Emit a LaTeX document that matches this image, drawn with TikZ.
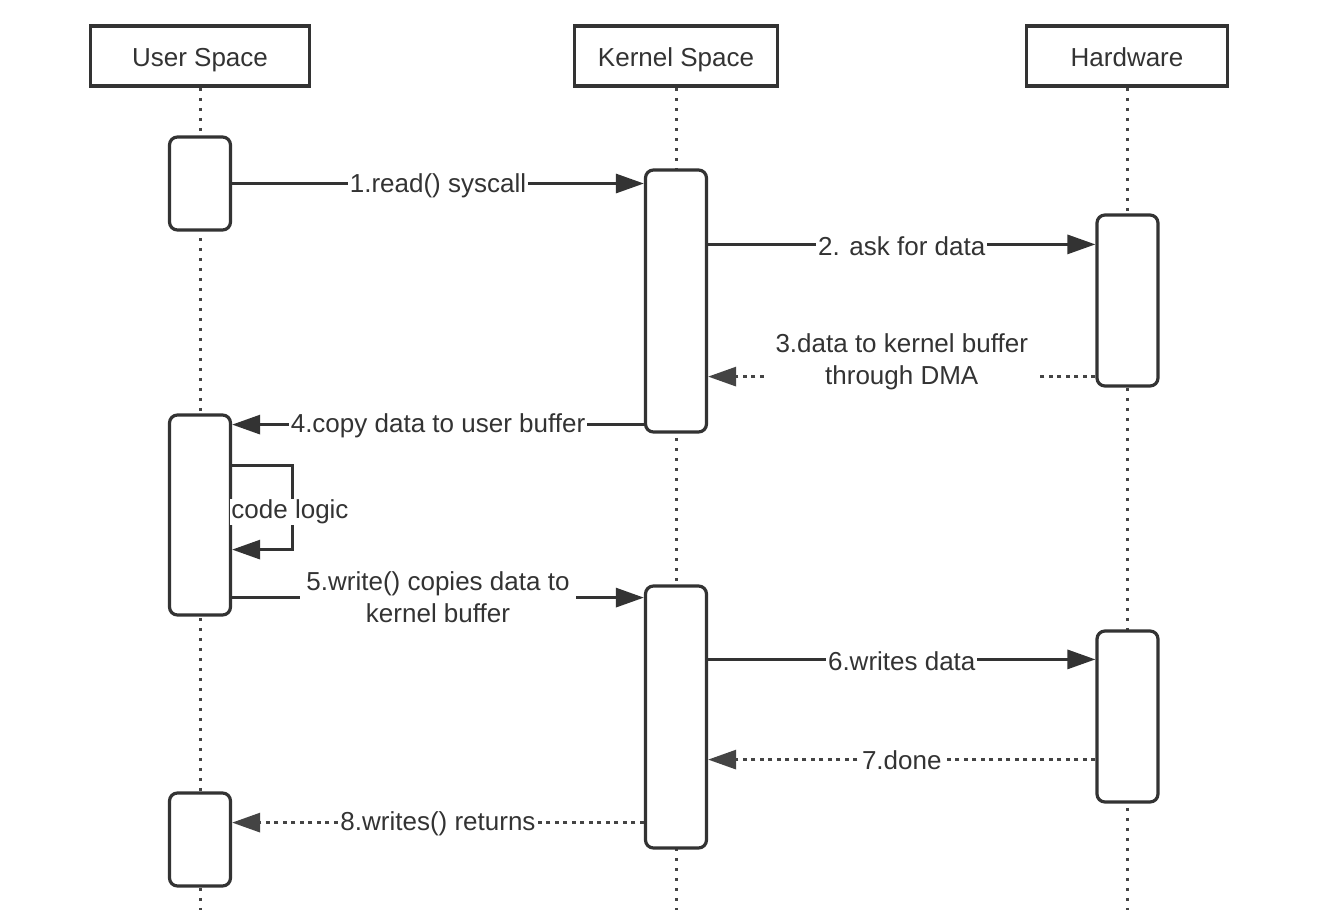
\documentclass[tikz,border=0pt]{standalone}
\usepackage{fontspec}
\setmainfont{Liberation Sans}
\usetikzlibrary{arrows.meta,calc}
\definecolor{ink}{HTML}{333333}
\definecolor{dotc}{HTML}{444444}
\begin{document}
\begin{tikzpicture}[x=1pt,y=-1pt,
  txt/.style={text=ink,font=\fontsize{26}{32}\selectfont},
  head/.style={txt,draw=ink,line width=3.5pt,minimum height=60pt,inner sep=0pt,text height=22pt,text depth=2pt},
  act/.style={draw=ink,line width=3.2pt,rounded corners=8pt,fill=white,minimum width=61pt,inner sep=0pt},
  life/.style={draw=dotc,line width=3pt,dash pattern=on 3pt off 7pt},
  msg/.style={draw=ink,line width=3pt,-{Triangle[length=28pt,width=19pt]}},
  ret/.style={msg,draw=dotc,dash pattern=on 4pt off 4.5pt},
  lbl/.style={txt,fill=white,inner xsep=2pt,inner ysep=1pt,align=center}]
\useasboundingbox[fill=white] (0,0) rectangle (1338,910);

% heads
\node[head,minimum width=219pt] (uh) at (200,56) {User Space};
\node[head,minimum width=203pt] (kh) at (676,56) {Kernel Space};
\node[head,minimum width=201pt] (hh) at (1127,56) {Hardware};

% lifelines
\coordinate (ue) at (200,910);
\coordinate (ke) at (676,910);
\coordinate (he) at (1127,910);
\draw[life] (uh.south) -- (ue);
\draw[life] (kh.south) -- (ke);
\draw[life] (hh.south) -- (he);

% activations
\node[act,minimum height=93pt]  (u1) at (200,183.5) {};
\node[act,minimum height=262pt] (k1) at (676,301) {};
\node[act,minimum height=171pt] (h1) at (1127.5,300.5) {};
\node[act,minimum height=200pt] (u2) at (200,515) {};
\node[act,minimum height=262pt] (k2) at (676,717) {};
\node[act,minimum height=171pt] (h2) at (1127.5,716.5) {};
\node[act,minimum height=93pt]  (u3) at (200,839.5) {};

% messages
\coordinate (m1) at (u1.east);
\draw[msg] (m1) -- node[lbl,yshift=-2pt]{1.read() syscall} (m1 -| k1.west);

\coordinate (m2) at ([yshift=-76pt]k1.north east);
\draw[msg] (m2) -- node[lbl,yshift=-2pt]{2. ask for data} (m2 -| h1.west);

\coordinate (m3) at ([yshift=11pt]h1.south west);
\draw[ret] (m3) -- node[lbl,yshift=15pt,inner xsep=8pt]{3.data to kernel buffer\\through DMA} (m3 -| k1.east);

\coordinate (m4) at ([yshift=9pt]k1.south west);
\draw[msg] (m4) -- node[lbl,yshift=-1pt]{4.copy data to user buffer} (m4 -| u2.east);

\coordinate (sl) at ([yshift=-52pt]u2.north east);
\coordinate (sr) at ([yshift=67pt]u2.south east);
\draw[msg] (sl) -- ++(60,0) |- (sr);
\node[lbl,inner xsep=1pt] (cl) at (290,512) {code logic};

\coordinate (m5) at ([yshift=19pt]u2.south east);
\draw[msg] (m5) -- node[lbl,inner xsep=6pt]{5.write() copies data to\\kernel buffer} (m5 -| k2.west);

\coordinate (m6) at ([yshift=-75pt]k2.north east);
\draw[msg] (m6) -- node[lbl,yshift=-2pt]{6.writes data} (m6 -| h2.west);

\coordinate (m7) at ([yshift=44pt]h2.south west);
\draw[ret] (m7) -- node[lbl,yshift=-1pt]{7.done} (m7 -| k2.east);

\coordinate (m8) at ([yshift=27pt]k2.south west);
\draw[ret] (m8) -- node[lbl,yshift=-1pt]{8.writes() returns} (m8 -| u3.east);
\end{tikzpicture}
\end{document}
